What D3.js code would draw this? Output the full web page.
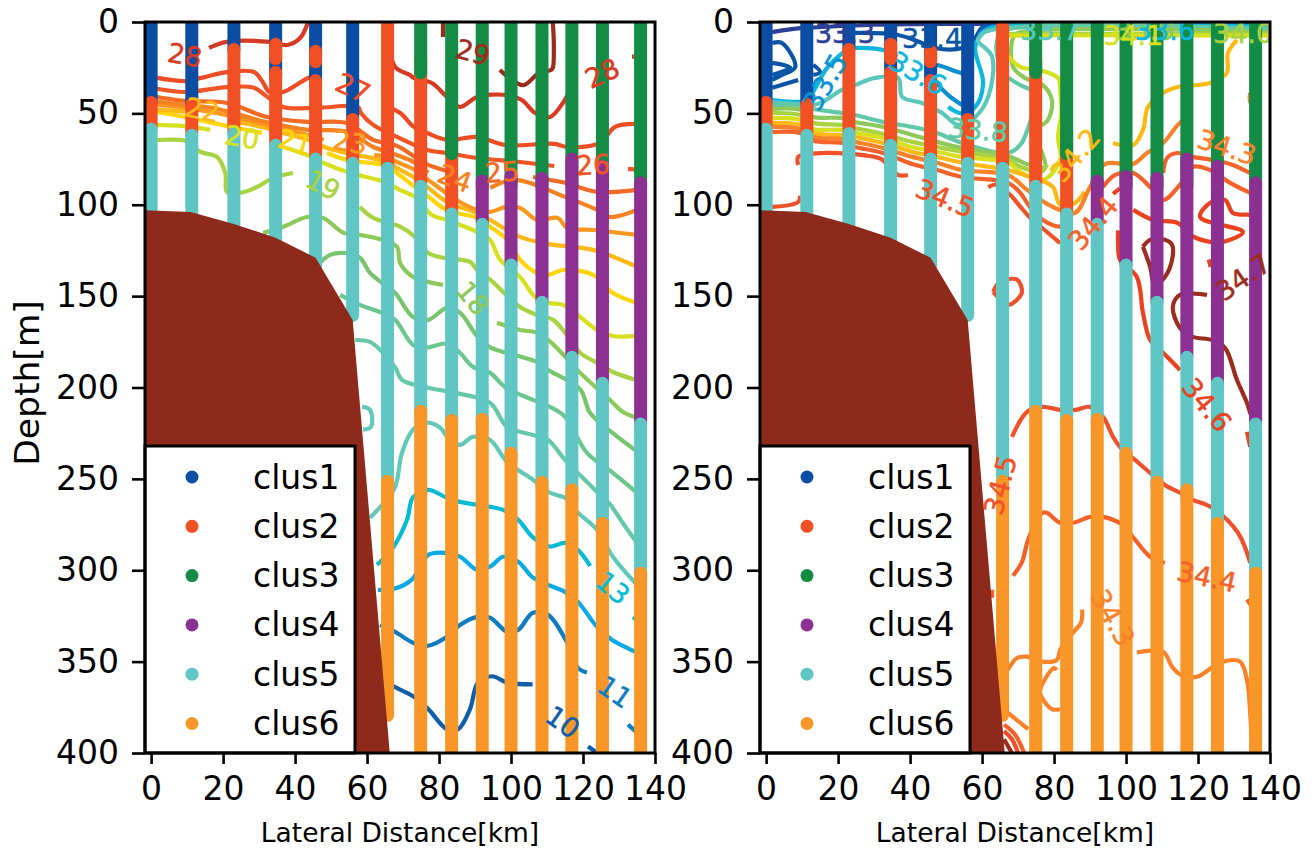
<!DOCTYPE html>
<html>
<head>
<meta charset="utf-8">
<script src="https://cdn.jsdelivr.net/npm/d3@7"></script>
<style>
  html, body { margin: 0; padding: 0; background: #fff; }
  text { font-family: "DejaVu Sans", sans-serif; }
</style>
</head>
<body>
<div id="chart"></div>
<script>
// station positions along the section [km]
const stationKm = [0, 11.3, 23, 34.6, 45.7, 56, 65.7, 74.9, 83.5, 92, 100, 108.6, 116.9, 125.4, 136];
const xTicks = [0, 20, 40, 60, 80, 100, 120, 140];
const yTicks = [0, 50, 100, 150, 200, 250, 300, 350, 400];
const clusterNames = ["clus1", "clus2", "clus3", "clus4", "clus5", "clus6"];

// cluster ranges: [station index, top depth, bottom depth]
const clus1 = [[0, 0, 44], [1, 0, 45], [2, 0, 15], [3, 0, 30], [4, 0, 35], [5, 0, 53]];
const clus2 = [[0, 44, 58], [1, 45, 61], [2, 15, 60], [3, 12.2, 20], [3, 27.5, 67], [4, 16, 21.7], [4, 32, 75], [5, 53.3, 77], [6, 0, 80], [7, 20, 90], [8, 60, 105]];
const clus3 = [[7, 0, 27.7], [8, 0, 72], [9, 0, 90], [10, 0, 90], [11, 0, 90], [12, 0, 90], [13, 0, 90], [14, 0, 90]];
const clus4 = [[9, 87, 110], [10, 84.5, 133], [11, 85.5, 153], [12, 75, 183], [13, 79, 198], [14, 88, 220]];
const clus5 = [[0, 58.7, 108], [1, 62, 108], [2, 61, 114], [3, 67.5, 122], [4, 75, 134], [5, 77.3, 160.6], [6, 80, 255], [7, 89.9, 215], [8, 105, 220], [9, 110.7, 220], [10, 133, 240], [11, 153.4, 255], [12, 183.5, 260], [13, 197.7, 280], [14, 220, 305]];
const clus6 = [[6, 251.3, 379.4], [7, 213, 410], [8, 218, 410], [9, 217.4, 410], [10, 236, 410], [11, 251.8, 410], [12, 256, 410], [13, 274.3, 410], [14, 301.6, 410]];

// sea floor outline [km, depth]
const terrain = [[-2, 103], [11, 104], [23, 110.5], [34.6, 118], [45.7, 129], [56, 163], [66.3, 400], [66.3, 410], [-2, 410]];

// temperature contours [km, depth], null = break in the line
const t10 = [[65.8, 362], [67.8, 364], [72.8, 369], [77, 376], [82.2, 387], [85.3, 387], [88.6, 376], [90.8, 361.5], [94.7, 358], [99, 361.5], [106, 362.5], null, [121.4, 396.5], [124, 400]];
const t11 = [[63.6, 330], [67.8, 333.7], [72.8, 339.7], [77, 341.3], [82.2, 336.4], [85.8, 330], [90.6, 325.5], [94.2, 326], [98.9, 333.7], [102, 332.6], [106.1, 323.3], [110.3, 324.4], [115.6, 339.7], [118.6, 353.4], [121.1, 356], null, [132.5, 384.5], [136.3, 391]];
const t12 = [[63, 310.7], [67.8, 310], [72.5, 305], [77, 291.6], [81.7, 290.5], [85.8, 292.6], [90.6, 299.8], [94.2, 298], [97.8, 292.6], [102, 295.4], [106.1, 304], [110.3, 308], [115, 311.8], [118.6, 317.3], [123.9, 331], [128, 338], [135, 345]];
const t13 = [[62.8, 297], [67.2, 287.7], [71.1, 272.4], [72.8, 260], [77, 256], [82.2, 260.4], [85.8, 262.6], [94.2, 265.3], [97.8, 267], [102, 272.4], [106.1, 282], [110.8, 287], [115, 285], [118.6, 289], [122, 297.6], null, [133.9, 325.5], [136.4, 330]];
const t14 = [[60.8, 271.3], [64.2, 264.2], [67.8, 254.4], [69.7, 235.8], [72.8, 223], [77, 219.3], [80.3, 222], [83, 228.7], [85.8, 231.4], [89.4, 227], [94.2, 228.7], [98.9, 240.7], [106.1, 250.5], [110.8, 257.6], [115, 260.4], [118.3, 268], [123.9, 277.9], [128.3, 292.6], [135, 308],
  null, [58.6, 210.6], [60.8, 212.2], [61.1, 221.5], [58.9, 223]];
const t15 = [[56.7, 174], [60.8, 175], [64.2, 180.5], [67.8, 189], [69.7, 195.8], [76.7, 200], [85.8, 203.5], [94.2, 208.4], [98.9, 221.5], [106.1, 226], [110.3, 228.7], [115, 239.6], [122.8, 255], [127.5, 264], [131, 274], [135, 285]];
const t16 = [[52.5, 149.3], [58, 154.8], [64.2, 159.2], [67.8, 163], [72.8, 176.7], [77, 178], [82.2, 176], [85.8, 181], [89.4, 188.7], [94.2, 192], [98.3, 199.7], [106.1, 206.8], [110.8, 210.6], [115, 216], [121.1, 235.8], [128.3, 246.7], [135, 257.6]];
const t17 = [[46.9, 131.8], [49.7, 127.4], [53.9, 126.4], [58, 129], [60.8, 137.3], [64.2, 142.8], [67.8, 148.3], [72.8, 161.4], [77, 163], [82.2, 156.4], [85.8, 159], [90.6, 172], [94.2, 178], [102.5, 183], [107.2, 186], [110.3, 190.4], [119.2, 201], [122, 214], [128.3, 225], [135, 235]];
const t18 = [[31.1, 115.4], [36.7, 112], [43.3, 106.7], [47.8, 107.2], [53.5, 115.4], [58, 116.5], [64.2, 119.2], [68.3, 123], [69.2, 132], [72.8, 139.5], [77, 142.2], [81.1, 143.9], null, [96.1, 164.6], [102.5, 168.5], [107.2, 170], [110.3, 174], [115, 183], [119.2, 192], [127.5, 206.8], [131, 213.3], [135, 216.6]];
const t19 = [[0, 64], [1.7, 64.5], [9.4, 65], [13.6, 71], [18.3, 73.8], [20.6, 82.6], [21.1, 93], [24.7, 93.5], [29.4, 90.3], [33.9, 85.3], [39.4, 82.6], null, [58, 101.2], [61.7, 107.2], [69.2, 112], [73.3, 117.6], [77, 126.4], [81.1, 129], [88.6, 131.3], [90.6, 135.7], [94.2, 141], [102.5, 156], [107.2, 160.3], [111.7, 163], [115, 170], [119.2, 181], [123.9, 186.5], [128.3, 191.5], [135, 196]];
const t20 = [[0, 56.3], [9.4, 57], [16.4, 59], null, [36.7, 68.4], [43.3, 72.8], [47.8, 77], [54.4, 82], [65.6, 88], [69.2, 92], [73.3, 95.7], [78, 105.6], [82.2, 108.3], [90.6, 114.9], [94.2, 119.2], [96.9, 130], [102.5, 139.5], [106.7, 150.4], [110.3, 153.7], [114.4, 154.8], [119.2, 161.4], [123.9, 168.5], [128.3, 171.8], [135, 171.8]];
const t21 = [[0, 48.7], [9.4, 52], [21.1, 56.9], [30.8, 60.7], null, [48.9, 71.7], [54.4, 75.5], [65.6, 78.8], [68.3, 82.6], [73.3, 90.3], [77.5, 96.3], [82.2, 102.9], [90.6, 107.2], [94.2, 112], [98.9, 119.2], [102.5, 130], [106.7, 136.8], [110.3, 138.4], [114.4, 135.7], [122.8, 138.4], [128.3, 148.3], [135, 153.7]];
const t22 = [[0, 47.6], [9.4, 49], null, [21.1, 53.6], [32, 58], [36.7, 60.7], [43.6, 64.5], [48.9, 69], [54.4, 71.7], [65.6, 76.6], [68.3, 79.9], [73.3, 85.3], [77, 90.8], [82.2, 98.5], [90.6, 104.5], [94.2, 108.3], [98.9, 113.8], [102.5, 117.6], [110, 121.4], [122.8, 124.7], [135, 134]];
const t23 = [[0, 45], [9.4, 47], [18, 49.8], [32, 56.3], [43.6, 61.8], [48, 64.5], null, [62, 72.8], [65.6, 73.8], [68.3, 76.6], [73.3, 81], [77, 86.4], [85.8, 98.5], [90.6, 102.8], [94.2, 103.9], [98.6, 101.2], [102.5, 101.7], [107.2, 108.3], [113, 107.2], [115.6, 112.7], [122.8, 113.8], [135, 116.5]];
const t24 = [[0, 43.2], [9.4, 45.4], [17, 47], [32, 54.7], [43.6, 59], [54.4, 60], [61.7, 68.4], [65.6, 71], [68.3, 72.8], [73.3, 77], [77, 82.6], null, [94.2, 90.8], [101.2, 86.4], [115, 95.7], [123.9, 102.8], [127.5, 106.7], [135, 102.8]];
const t25 = [[0, 40.5], [9.4, 43.2], [21.1, 44.3], [32.2, 52], [43.6, 54.7], [54.4, 55.3], [61.7, 64.5], [68.3, 67.8], [73.3, 73.8], [77, 78.2], [82.2, 81.5], null, [106.1, 84.8], [115, 88], [123.9, 93], [135, 91.9]];
const t26 = [[0, 36], [9.4, 38.3], [21.1, 35.6], [28.6, 36], [32, 40.5], [36.7, 46.5], [46, 47], [57.5, 46.5], [58.3, 49.8], [61.7, 56.3], [68.3, 62.9], [76.7, 70], [82.2, 71.7], [90.6, 74.4], [102.5, 76.6], [112, 78.8], null, [132.5, 80.4], [136, 81]];
const t27 = [[1.7, 30.6], [9.4, 32.3], [13.9, 30.6], [21, 27.4], [28.6, 27.4], [31, 32.8], [32.8, 38.3], [36.7, 38.3], [43.6, 30.6], [46, 29.5], null, [64.5, 45.4], [69.2, 49.8], [73, 57.4], [76.7, 60.7], [82.2, 64.5], [90.6, 62.9], [98.3, 67.3], [112, 66.7], [115.6, 68.4], [124.7, 66.2], [128.9, 57.4], [135, 55.8]];
const t28 = [[16.1, 14.2], [21, 10.9], [33, 10.9], [37.8, 12.6], [41.4, 8.8], [43.6, 0], null, [66, 10], [67.8, 24.6], [71.9, 29], [73, 30.6], [78, 33.4], [82.2, 41], [85.8, 46.5], [90.6, 41], [98.9, 40], [103, 42.7], [106.7, 49.8], [110.8, 52], [114.4, 44.3], [117, 34.5], null, [133.6, 19], [136, 19]];
const t29 = [[81.1, 0], [81.1, 8.2], null, [96.9, 26.3], [101, 32.8], [103.6, 34.5], [107.8, 27.9], [111.1, 26.3], [111.6, 25.2], [111.9, 12.6], [111.6, 0]];

const tempLevels = [10, 11, 12, 13, 14, 15, 16, 17, 18, 19, 20, 21, 22, 23, 24, 25, 26, 27, 28, 29];
const tempLines = [t10, t11, t12, t13, t14, t15, t16, t17, t18, t19, t20, t21, t22, t23, t24, t25, t26, t27, t28, t29];
const tempColors = ["#0f5ca8", "#0f7cc0", "#0aa9e6", "#04bbd3", "#62c9b8", "#66c8a8", "#6cc690", "#78c46f", "#8cc85a", "#a9d242", "#d7e01f", "#ffd505", "#fdb913", "#f9971f", "#f58220", "#f26b24", "#f15425", "#ee4c25", "#d63a22", "#9c2d1c"];

// contour labels: [km, depth, level, angle]
const tempLabels = [
  [9.4, 18, 28, 10], [14.2, 48, 22, 12], [25.3, 63, 20, 10], [40, 65.6, 21, 15], [55.3, 65.6, 23, 10],
  [47.8, 89, 19, 28], [56.1, 36, 27, 25], [89.4, 16.4, 29, 15], [125.3, 28, 28, -25], [84.4, 85.4, 24, 20],
  [97.5, 82, 25, -5], [122.8, 78, 26, -3], [89.4, 151, 18, 50], [128.3, 309.6, 13, 40], [128.9, 366.5, 11, 35], [114.4, 383, 10, 35]
];

// salinity contours
const bandKm = [1.7, 9.4, 13.1, 21, 24.7, 32.5, 40.6, 47.5, 54.4, 67.2];
const band338 = [45.4, 46, 47.6, 49.8, 50.9, 54.7, 57.4, 60.7, 66.2, 71.7];
const band339 = [47.6, 48, 52, 52.5, 54.7, 57.4, 61.8, 65.6, 69, 73.3];
const band340 = [49.8, 50.9, 55.2, 56.3, 58, 61.3, 65.6, 68.4, 71, 75.5];
const band341 = [52.5, 53.6, 58.5, 59, 60.7, 63.5, 68.4, 71, 73.8, 77];
const band342 = [55.2, 56.3, 60.7, 61.8, 62.9, 66.2, 71, 73.8, 77, 81];
const band343 = [57.4, 58.5, 62.9, 64, 65.6, 69, 73.8, 77, 81, 83.7];
const band344 = [60.2, 60.7, 65, 66.2, 68.4, 71.7, 77.7, 81, 84.8, 88];
function alongBand(depths) { return depths.map(function(d, i) { return [bandKm[i], d]; }); }

const s333 = [[1.7, 5.5], [8.9, 3.5], [13, 3], [30, 1.5], [50, 1], [60, 1], [139.4, 0.6]];
const s334 = [[24.7, 6], [36.4, 7], [43.3, 11.5], [46.9, 14.2], [54.4, 14.2], [58, 9], [60, 3], [64, 1.5], [139.4, 1.5],
  null, [1.7, 11.5], [4.4, 11.5], [8.1, 24.6], [4.4, 29], [1.7, 31.7],
  null, [1.7, 22.4], [6.7, 25], [1.7, 29],
  null, [1.7, 36], [8.9, 31.7],
  null, [13.1, 23.5], [15, 27.4], [13.1, 29]];
const s335 = [[54.4, 45.4], [50.6, 40], [47.5, 33.4], [45.6, 25], [46.9, 23.5], [53.3, 27.4], [56, 29], null, [59, 7], [62, 3.2], [66, 2.2], [139.4, 2.2]];
const s336 = [[139.4, 2.7], [64, 2.7], [60.8, 5], [58.1, 13.7], [60.3, 33.4], [58.1, 46.5], [54.4, 50], [50.6, 46.5], null, [36.4, 19], [32.5, 15.3], [24.7, 14.2], [22.8, 15], [17, 25], [13.1, 38], [11.1, 43], [1.7, 42.7]];
const s337 = [[139.4, 3.5], [66, 3.5], [60.3, 6], [58.9, 10], [62.8, 19], [61.7, 41], [58.1, 52], [53.3, 56.3], [48.9, 49.8], [43.3, 44.3], [37.8, 41], [36.7, 30.6], [30.3, 30.6], [24.7, 34.5], [21, 37.2], [15.6, 43.8], [13.1, 45.4], [9.4, 45], [1.7, 44]];
const s338 = alongBand(band338).concat([[70.6, 67.3], [72.8, 58], [74.5, 45], [74, 38], [70.6, 34.5], [66, 28], [64, 12], [66, 5], [139.4, 4.5]]);
const s339 = alongBand(band339).concat([[72.8, 78], [77.5, 79.3], [76.7, 71.7], [74.4, 60], [78.3, 53.6], [79.4, 42.7], [76.9, 34.5], [71.9, 30.6], [68.6, 24.6], [68.6, 8.8], [70, 6], [139.4, 5.5]]);
const s340 = alongBand(band340).concat([[71, 79.5], [76.5, 82], [78, 78], null, [66.5, 6.5], [139.4, 6.5]]);
const s341 = alongBand(band341).concat([[70.6, 82], [76.9, 86.4], [81.7, 75.5], [81.1, 63], [82, 50], [81.7, 37.2], [81.1, 30.6], [76.1, 26.3], [70.6, 24.6], [66, 15], [65, 8], [70, 7.5], [139.4, 7.5]]);
const s342 = alongBand(band342).concat([[72, 84], [76, 86.4], [79.7, 90.3], [81.7, 100], [85.8, 99], [88.5, 93], null, [96.4, 66.2], [102, 67.3], [104.7, 59], [106.1, 46.5], [110.3, 38.8], [114.4, 35.6], [123.3, 33.4], [128, 27.9], [128.3, 17], [130.8, 9.8]]);
const s343 = alongBand(band343).concat([[72, 91], [76, 97], [79.7, 101.2], [85.8, 104.5], [90, 90.3], [94.2, 77.7], [102, 77.7], [105.8, 71.7], [110.3, 66.2], [114.4, 56.3], [117, 52], null, [134.5, 38.8], [134.5, 43.8], [136, 47],
  null, [87.8, 321.6], [87.5, 328.7], [85.3, 334], [81.7, 343.5], [80.8, 349], [76.7, 350], [72.5, 347.3], [69.7, 348], [67.2, 354.5],
  null, [80.8, 354.5], [80, 353.5], [76.9, 361.6], [76.1, 367], [79.4, 376], [81.7, 376],
  null, [103, 345], [110.3, 344.6], [112.8, 352.8], [115, 357], [119.7, 358.3], [124.2, 352.8], [128, 349.5], [131.7, 350], [133.6, 360], [134.5, 378], [135, 400],
  null, [67.2, 378], [72.8, 387]]);
const s344 = alongBand(band344).concat([[70.6, 93.5], [73.3, 101.2], [76.9, 108.3], [81.7, 112], [85, 110], null, [93.6, 90.3], [97, 83.7], [102, 82.6], [106.7, 90.3], [110.3, 97.4], [115, 89], [118.6, 79.3], [123.3, 81], [128.9, 88], [134.5, 93.5], [136.4, 95],
  null, [110.3, 82.6], [111.4, 74.4], [114.2, 71.7], [118.6, 73.8], [123.9, 75.5], [129.7, 78.2], [134.5, 82.6], [136.4, 84],
  null, [62.8, 310.7], [62.8, 315],
  null, [68.6, 303], [71.1, 295.4], [72.8, 283.3], [76.7, 268.6], [78, 268.6], [81.7, 274], [85.3, 274], [90, 270.8], [93.6, 270.8], [98.9, 275], [102.5, 283.3], [106.7, 292.6], [110.8, 296], null, [133.6, 316], [135, 320],
  null, [66.1, 384.5], [69.2, 390], [71.7, 400]]);
const s345 = [[8.9, 78.2], [8.9, 73.8], [13.1, 72], [20, 71.7], [27.5, 73], [32, 75], [36.7, 83.7], [39.4, 83.7], null, [61.7, 90.3], [64.2, 89], [68, 95], [70.6, 101], [73.3, 107], [76.9, 113], [81.7, 121],
  null, [0, 101], [1.7, 101.2], [8.9, 98.5], [9.5, 95],
  null, [68.3, 227], [72.5, 213.3], [76.7, 210.6], [81.7, 212.2], [86, 212.2], [90, 210.6], [93.6, 216], [96.4, 227], [98.3, 232.5], [102.5, 239.6], [106.7, 246.7], [110.8, 253.3], [115, 257.6], [118.6, 261.5], [123.9, 265.8], [131.1, 279.5], [134.5, 296],
  null, [63.1, 147.7], [65, 142.2], [69.7, 141], [71.1, 147.7], [69.7, 152], [67.2, 154.8], [63.1, 147.7],
  null, [66.1, 388], [68.3, 392.5], [70, 400]];
const s346 = [[102, 102.8], [107.5, 108.3], [114.4, 110], [117.8, 116.5], [123.3, 120.3], [127, 120.3], [132.5, 114.9], [120.6, 106.7], [123.3, 99], [127.5, 97.4], [129.7, 104.5], [134.5, 105.5], [136, 106],
  null, [96.4, 94], [98.3, 91],
  null, [97.8, 114], [97.8, 123], [98.3, 130], [103, 139.5], [104.7, 159], [106.7, 174], [110.3, 181], [115, 190.4], null, [133.6, 224.3], [134.5, 232.5],
  null, [123, 130], [123.5, 134]];
const s347 = [[104.7, 123], [106.7, 119.2], [110.8, 119.2], [112.8, 122], [112.8, 130], [110.8, 139.5], [108, 144], [106.7, 134], [104.7, 123],
  null, [122.5, 149.3], [115, 149.3], [113, 155.9], [115, 167.4], [118.6, 172.3], [123.9, 174], [127.5, 178.3], [130.8, 195.8], [133.6, 208.4], [134.5, 213.9], [136.4, 222],
  null, [66.1, 392.5], [68.3, 400]];

const saltLevels = ["33.3", "33.4", "33.5", "33.6", "33.7", "33.8", "33.9", "34.0", "34.1", "34.2", "34.3", "34.4", "34.5", "34.6", "34.7"];
const saltLines = [s333, s334, s335, s336, s337, s338, s339, s340, s341, s342, s343, s344, s345, s346, s347];
const saltColors = ["#2b4095", "#0b55a5", "#0c8fd0", "#0cb6dc", "#5cc8bc", "#62c9a8", "#8cc85a", "#a9d242", "#d7e01f", "#fdb913", "#f9822a", "#f4612a", "#f0512a", "#e8431f", "#9c2d1c"];

const saltLabels = [
  [21.9, 6, "33.3", 0], [46.1, 8.8, "33.4", 0], [16.4, 32.8, "33.5", -60], [42.2, 27.9, "33.6", 30], [58.9, 59, "33.8", 5],
  [78.9, 4.4, "33.7", 0], [105.3, 4.4, "33.9", 0], [110.8, 4.4, "33.6", 0], [102, 7, "34.1", 0], [132.5, 6, "34.0", 0],
  [85.8, 72.8, "34.2", -50], [128, 68.4, "34.3", 18], [90.8, 110, "34.4", -50], [49.7, 96.3, "34.5", 22], [65, 253.3, "34.5", -75],
  [122.5, 209.5, "34.6", 50], [132.5, 139.5, "34.7", -35], [122.5, 303.6, "34.4", 12], [96.4, 326, "34.3", 60]
];

const clusterColors = ["#0a4da2", "#f15025", "#138d46", "#8c3092", "#5fc6c4", "#f89728"];
const clusterRanges = [clus1, clus2, clus3, clus4, clus5, clus6];

const width = 1315, height = 849;
const svg = d3.select("#chart").append("svg").attr("width", width).attr("height", height).style("display", "block");

function drawPanel(idx, left, right, lines, levelNames, colors, labels) {
	const x = d3.scaleLinear().domain([-1.7, 140]).range([left, right]);
	const y = d3.scaleLinear().domain([0, 400]).range([22, 753]);
	const clipId = "clip" + idx;
	svg.append("clipPath").attr("id", clipId).append("rect")
		.attr("x", left).attr("y", 22).attr("width", right - left).attr("height", 731);

	const plot = svg.append("g").attr("clip-path", "url(#" + clipId + ")");
	const line = d3.line().defined(function(d) { return d; })
		.curve(d3.curveCatmullRom.alpha(0.5))
		.x(function(d) { return x(d[0]); }).y(function(d) { return y(d[1]); });

	// contours under the cluster columns
	lines.forEach(function(pts, i) {
		plot.append("path").attr("d", line(pts)).attr("fill", "none")
			.attr("stroke", colors[i]).attr("stroke-width", 4.2)
			.attr("stroke-linejoin", "round").attr("stroke-linecap", "butt");
	});

	// clusters in draw order, later ones over earlier ones
	clusterRanges.forEach(function(ranges, c) {
		plot.append("g").selectAll("line").data(ranges).enter().append("line")
			.attr("x1", function(d) { return x(stationKm[d[0]]); })
			.attr("x2", function(d) { return x(stationKm[d[0]]); })
			.attr("y1", function(d) { return y(d[1]); })
			.attr("y2", function(d) { return y(d[2]); })
			.attr("stroke", clusterColors[c]).attr("stroke-width", 13).attr("stroke-linecap", "round");
	});

	plot.append("path").attr("d", d3.line().x(function(d) { return x(d[0]); }).y(function(d) { return y(d[1]); })(terrain) + "Z")
		.attr("fill", "#8e2a1b");

	plot.append("g").selectAll("text").data(labels).enter().append("text")
		.attr("transform", function(d) { return "translate(" + x(d[0]) + "," + y(d[1]) + ") rotate(" + d[3] + ")"; })
		.attr("text-anchor", "middle").attr("dy", "0.36em").attr("font-size", 27)
		.attr("fill", function(d) { return colors[levelNames.indexOf(d[2])]; })
		.attr("stroke", function(d) { return colors[levelNames.indexOf(d[2])]; })
		.attr("stroke-width", 0.5)
		.text(function(d) { return d[2]; });

	// legend
	const legendW = 210;
	const legend = svg.append("g");
	legend.append("rect").attr("x", left).attr("y", 446).attr("width", legendW).attr("height", 307)
		.attr("fill", "#fff").attr("stroke", "#000").attr("stroke-width", 3);
	clusterNames.forEach(function(name, i) {
		const ly = 477 + i * 49.3;
		legend.append("circle").attr("cx", left + 47).attr("cy", ly).attr("r", 6.5).attr("fill", clusterColors[i]);
		legend.append("text").attr("x", left + 108).attr("y", ly + 11.5).attr("font-size", 33).attr("fill", "#000").text(name);
	});

	// axes
	const xAxis = svg.append("g").attr("transform", "translate(0,753)")
		.call(d3.axisBottom(x).tickValues(xTicks).tickSize(11).tickPadding(13));
	const yAxis = svg.append("g").attr("transform", "translate(" + left + ",0)")
		.call(d3.axisLeft(y).tickValues(yTicks).tickSize(13).tickPadding(13));
	[xAxis, yAxis].forEach(function(a) {
		a.select(".domain").remove();
		a.selectAll("line").attr("stroke", "#000").attr("stroke-width", 2.6);
		a.selectAll("text").attr("font-size", 33).attr("fill", "#000").style("font-family", '"DejaVu Sans", sans-serif');
	});
	svg.append("rect").attr("x", left).attr("y", 22).attr("width", right - left).attr("height", 731)
		.attr("fill", "none").attr("stroke", "#000").attr("stroke-width", 3);

	svg.append("text").attr("x", (left + right) / 2).attr("y", 842).attr("text-anchor", "middle")
		.attr("font-size", 26.5).attr("fill", "#000").text("Lateral Distance[km]");
}

drawPanel(0, 145, 655, tempLines, tempLevels, tempColors, tempLabels);
drawPanel(1, 760, 1270, saltLines, saltLevels, saltColors, saltLabels);

svg.append("text").attr("transform", "translate(27,383) rotate(-90)").attr("text-anchor", "middle")
	.attr("dy", "0.36em").attr("font-size", 34.5).attr("fill", "#000").text("Depth[m]");
</script>
</body>
</html>
